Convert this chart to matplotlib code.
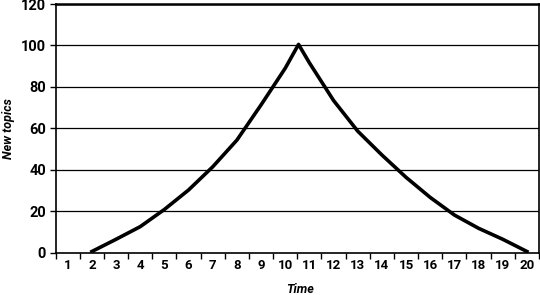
import numpy as np
import matplotlib.pyplot as plt

# Valeurs
time = [2, 3, 4, 5, 6, 7, 8, 9, 10, 10.55, 11, 12, 13, 14, 15, 16, 17, 18, 19, 20]
new_topics = [0.5, 6.4, 12.5, 20.8, 30.2, 41.4, 54.3, 71.3, 89, 100.5,
              91.6, 73.4, 58.6, 47.1, 36.3, 26.6, 18.1, 11.7, 6.4, 0.5]
categories = [str(i) for i in range(1, 21)]
y_ticks = [0, 20, 40, 60, 80, 100, 120]

fam = ['Roboto', 'DejaVu Sans']

fig = plt.figure(figsize=(5.4, 2.95), dpi=100)
ax = fig.add_axes([0.1031, 0.144, 0.895, 0.8424])

for v in y_ticks[1:]:
    ax.axhline(v, color='black', linewidth=0.9, zorder=1)

ax.plot(time, new_topics, color='black', linewidth=2.6, solid_joinstyle='round', zorder=3)

ax.set_xlim(0.5, 20.5)
ax.set_ylim(0, 120)

ax.set_yticks(y_ticks)
ax.set_yticklabels([str(v) for v in y_ticks], family=fam, fontweight='bold', fontsize=10.5)

# graduations aux limites des catégories, libellés au centre
ax.set_xticks(np.arange(0.5, 21, 1))
ax.set_xticklabels([])
ax.set_xticks(range(1, 21), minor=True)
ax.set_xticklabels(categories, minor=True, family=fam, fontweight='bold', fontsize=9.5)
ax.tick_params(axis='x', which='major', length=4, width=1, direction='out', color='black')
ax.tick_params(axis='x', which='minor', length=0, pad=5)
ax.tick_params(axis='y', length=4, width=1, direction='out', pad=3)

for s in ['left', 'bottom', 'right']:
    ax.spines[s].set_linewidth(1.2)
ax.spines['top'].set_linewidth(1.8)

ax.set_ylabel('New topics', family=fam, fontweight='bold', fontstyle='italic', fontsize=9)
ax.set_xlabel('Time', family=fam, fontweight='bold', fontstyle='italic', fontsize=9)
ax.yaxis.set_label_coords(-0.085, 0.5)
ax.xaxis.set_label_coords(0.505, -0.122)

fig.savefig('out.png', dpi=100)
